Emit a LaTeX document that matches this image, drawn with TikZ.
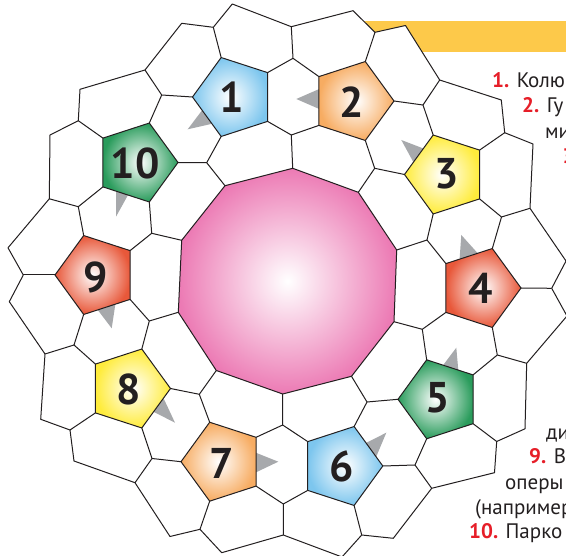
\documentclass[tikz,border=0pt]{standalone}
\usepackage{fontspec}
\setmainfont{PT Sans}
\definecolor{edge}{RGB}{35,31,32}
\definecolor{pblue}{RGB}{125,198,238}
\definecolor{porange}{RGB}{247,172,98}
\definecolor{pyellow}{RGB}{255,236,60}
\definecolor{pred}{RGB}{232,88,58}
\definecolor{pgreen}{RGB}{42,156,92}
\definecolor{ppink}{RGB}{236,122,180}
\definecolor{band}{RGB}{253,201,74}
\definecolor{tri}{RGB}{167,169,172}
\definecolor{txtred}{RGB}{230,30,40}
\newcommand\mkpent[4]{%
  \coordinate (#1a) at ({#2+(#4)*41.5},{#3});
  \coordinate (#1t) at ({#2+(#4)*12.82},{#3-39.47});
  \coordinate (#1s) at ({#2-(#4)*33.57},{#3-24.39});
  \coordinate (#1u) at ({#2-(#4)*33.57},{#3+24.39});
  \coordinate (#1b) at ({#2+(#4)*12.82},{#3+39.47});
}
\begin{document}
\begin{tikzpicture}[x=1pt,y=-1pt,
  tile/.style={draw=edge,line width=1pt,line join=round},
  num/.style={font=\bfseries\fontsize{43}{43}\selectfont,text=edge,inner sep=0pt},
  txt/.style={font=\fontsize{21}{21}\selectfont,text=edge,inner sep=0pt,anchor=base west},
  arrowtip/.style={fill=tri,draw=none}]
\useasboundingbox (0,0) rectangle (566,556);
\clip (0,0) rectangle (566,556);
% pentagon corners
\mkpent{P1}{234}{97}{-1}
\mkpent{P2}{352.5}{101}{1}
\mkpent{P3}{446}{174.5}{-1}
\mkpent{P4}{479.5}{288}{1}
\mkpent{P5}{439.5}{399.3}{-1}
\mkpent{P6}{341.3}{466}{1}
\mkpent{P7}{222.5}{461.7}{-1}
\mkpent{P8}{129}{388.5}{1}
\mkpent{P9}{96.5}{275}{-1}
\mkpent{P10}{136.5}{162.5}{1}
% decagon
\coordinate (D0) at (292.7,168.3);
\coordinate (D1) at (358.3,192.3);
\coordinate (D2) at (396.7,250);
\coordinate (D3) at (394,321.7);
\coordinate (D4) at (351.5,376.3);
\coordinate (D5) at (282.7,394);
\coordinate (D6) at (216.3,370.5);
\coordinate (D7) at (178.3,312.3);
\coordinate (D8) at (181.7,240.3);
\coordinate (D9) at (225,185.7);
% ring vertices
\coordinate (A0) at (291.3,135);
\coordinate (A1) at (374.7,168.3);
\coordinate (A2) at (427,240);
\coordinate (A3) at (422.3,329.3);
\coordinate (A4) at (367,402);
\coordinate (A5) at (282.7,425);
\coordinate (A6) at (199.3,394.3);
\coordinate (A7) at (149.3,321);
\coordinate (A8) at (151.7,233.3);
\coordinate (A9) at (206.7,162.7);
% outer vertices
\coordinate (B0) at (293,58.3);
\coordinate (C0) at (291.3,26.7);
\coordinate (E0) at (232.3,4);
\coordinate (E1) at (353,10.7);
\coordinate (F0) at (213.3,27.3);
\coordinate (G0) at (181.7,23.3);
\coordinate (H0) at (145,70);
\coordinate (I0) at (80,89.3);
\coordinate (J0) at (161.7,95);
\coordinate (K0) at (78.3,120.7);
\coordinate (L0) at (50,135);
\coordinate (M0) at (49.3,198.8);
\coordinate (N0) at (78.3,206.7);
\coordinate (O0) at (8,247.8);
\coordinate (Q0) at (23.3,275);
\coordinate (R0) at (9.3,301.7);
\coordinate (S0) at (45,354);
\coordinate (T0) at (74,345);
\coordinate (U0) at (40.7,419.3);
\coordinate (V0) at (70,430);
\coordinate (W0) at (74,461);
\coordinate (X0) at (135,482.7);
\coordinate (Y0) at (152,458.5);
\coordinate (Z0) at (170,536.5);
\coordinate (AA) at (200,529.3);
\coordinate (AB) at (221.7,552.7);
\coordinate (AC) at (283.3,535);
\coordinate (AD) at (283.3,504);
\coordinate (AE) at (342,557);
\coordinate (BA) at (361.7,535);
\coordinate (BB) at (393.3,538.3);
\coordinate (BC) at (431.7,488.3);
\coordinate (BD) at (415,465);
\coordinate (BE) at (494.5,472.7);
\coordinate (BF) at (496.7,441.5);
\coordinate (BG) at (525,428.8);
\coordinate (BH) at (526.7,363.3);
\coordinate (BI) at (497.3,355);
\coordinate (BJ) at (567,316);
\coordinate (BK) at (551.7,288.3);
\coordinate (BL) at (566,261);
\coordinate (BM) at (530,208.3);
\coordinate (BN) at (533,144);
\coordinate (BO) at (501.5,217);
\coordinate (BP) at (504.7,132.7);
\coordinate (BQ) at (501.3,100);
\coordinate (BR) at (439.7,80);
\coordinate (BS) at (405.5,25.5);
\coordinate (BT) at (423,105);
\coordinate (BU) at (375,32.3);
% yellow band
\fill[band] (363,20.7) rectangle (566,51.7);
% outer boundary
\draw[tile,fill=white] (E0)--(F0)--(G0)--(H0)--(I0)--(K0)--(L0)--(M0)--(O0)--(Q0)--(R0)--(S0)--(U0)--(V0)--(W0)--(X0)--(Z0)--(AA)--(AB)--(AC)--(AE)--(BA)--(BB)--(BC)--(BE)--(BF)--(BG)--(BH)--(BJ)--(BK)--(BL)--(BM)--(BN)--(BP)--(BQ)--(BR)--(BS)--(BU)--(E1)--(C0)--cycle;
% inner ring edges
\draw[tile] (D0)--(A0) (P1u)--(A0)--(P2u);
\draw[tile] (D1)--(A1) (P2b)--(A1)--(P3a);
\draw[tile] (D2)--(A2) (P3b)--(A2)--(P4s);
\draw[tile] (D3)--(A3) (P4u)--(A3)--(P5t);
\draw[tile] (D4)--(A4) (P5a)--(A4)--(P6t);
\draw[tile] (D5)--(A5) (P7s)--(A5)--(P6s);
\draw[tile] (D6)--(A6) (P8a)--(A6)--(P7t);
\draw[tile] (D7)--(A7) (P9u)--(A7)--(P8t);
\draw[tile] (D8)--(A8) (P10b)--(A8)--(P9s);
\draw[tile] (D9)--(A9) (P10a)--(A9)--(P1b);
% outer ring edges
\draw[tile] (P1s)--(B0)--(P2s) (B0)--(C0);
\draw[tile] (F0)--(P1t);
\draw[tile] (H0)--(J0)--(P1a) (J0)--(P10t);
\draw[tile] (K0)--(P10s);
\draw[tile] (M0)--(N0)--(P10u) (N0)--(P9t);
\draw[tile] (Q0)--(P9a);
\draw[tile] (S0)--(T0)--(P9b) (T0)--(P8s);
\draw[tile] (V0)--(P8u);
\draw[tile] (X0)--(Y0)--(P8b) (Y0)--(P7a);
\draw[tile] (AA)--(P7b);
\draw[tile] (AC)--(AD)--(P7u) (AD)--(P6u);
\draw[tile] (BA)--(P6b);
\draw[tile] (BC)--(BD)--(P6a) (BD)--(P5b);
\draw[tile] (BF)--(P5u);
\draw[tile] (BH)--(BI)--(P4b) (BI)--(P5s);
\draw[tile] (BK)--(P4a);
\draw[tile] (BM)--(BO)--(P3u) (BO)--(P4t);
\draw[tile] (BP)--(P3s);
\draw[tile] (BR)--(BT)--(P2a) (BT)--(P3t);
\draw[tile] (BU)--(P2t);
% grey arrow tips
\fill[arrowtip] (187.7,129.3)--(206.3,104.7)--(220.3,121.9)--cycle;
\fill[arrowtip] (296.3,99)--(325,86.5)--(325,111.5)--cycle;
\fill[arrowtip] (401.3,140)--(433.8,152.5)--(416.3,167.5)--cycle;
\fill[arrowtip] (461.3,235)--(459,267.6)--(485.3,261.7)--cycle;
\fill[arrowtip] (456.3,347.7)--(438,372)--(459,378)--cycle;
\fill[arrowtip] (386.3,432.7)--(362,445)--(374,462)--cycle;
\fill[arrowtip] (278.3,461.7)--(250,450.4)--(250,475.2)--cycle;
\fill[arrowtip] (175,422.7)--(150,410)--(162,395)--cycle;
\fill[arrowtip] (111.7,328.3)--(94,305)--(116.3,298)--cycle;
\fill[arrowtip] (116,216.7)--(116,186)--(133,186)--cycle;
% pentagons
\shadedraw[tile,inner color=white,outer color=pblue] (P1a)--(P1t)--(P1s)--(P1u)--(P1b)--cycle;
\shadedraw[tile,inner color=white,outer color=porange] (P2a)--(P2t)--(P2s)--(P2u)--(P2b)--cycle;
\shadedraw[tile,inner color=white,outer color=pyellow] (P3a)--(P3t)--(P3s)--(P3u)--(P3b)--cycle;
\shadedraw[tile,inner color=white,outer color=pred] (P4a)--(P4t)--(P4s)--(P4u)--(P4b)--cycle;
\shadedraw[tile,inner color=white,outer color=pgreen] (P5a)--(P5t)--(P5s)--(P5u)--(P5b)--cycle;
\shadedraw[tile,inner color=white,outer color=pblue] (P6a)--(P6t)--(P6s)--(P6u)--(P6b)--cycle;
\shadedraw[tile,inner color=white,outer color=porange] (P7a)--(P7t)--(P7s)--(P7u)--(P7b)--cycle;
\shadedraw[tile,inner color=white,outer color=pyellow] (P8a)--(P8t)--(P8s)--(P8u)--(P8b)--cycle;
\shadedraw[tile,inner color=white,outer color=pred] (P9a)--(P9t)--(P9s)--(P9u)--(P9b)--cycle;
\shadedraw[tile,inner color=white,outer color=pgreen] (P10a)--(P10t)--(P10s)--(P10u)--(P10b)--cycle;
% decagon
\shadedraw[tile,inner color=white,outer color=ppink] (D0)--(D1)--(D2)--(D3)--(D4)--(D5)--(D6)--(D7)--(D8)--(D9)--cycle;
% numbers
\node[num] (n1) at (232,97) {1};
\node[num] (n2) at (352,102) {2};
\node[num] (n3) at (447,174) {3};
\node[num] (n4) at (481,288) {4};
\node[num] (n5) at (438,398) {5};
\node[num] (n6) at (342,466) {6};
\node[num] (n7) at (222,463) {7};
\node[num] (n8) at (129,389) {8};
\node[num] (n9) at (96,277) {9};
\node[num] (n10) at (135,163) {10};
% side text (cut off at the right edge, as in the reference)
\node[txt] (l1) at (492,87.3) {\textcolor{txtred}{\bfseries 1.} Колю};
\node[txt] (l2) at (522,113) {\textcolor{txtred}{\bfseries 2.} Гу};
\node[txt] (l3) at (545,138.3) {ми};
\node[txt] (l4) at (562.5,163.6) {\textcolor{txtred}{\bfseries 3.}};
\node[txt] (l5) at (546,440) {ди};
\node[txt] (l6) at (529,463.3) {\textcolor{txtred}{\bfseries 9.} В};
\node[txt] (l7) at (505,490) {оперы};
\node[txt] (l8) at (475,515) {(например};
\node[txt] (l9) at (469,538.3) {\textcolor{txtred}{\bfseries 10.} Парко};
\end{tikzpicture}
\end{document}
